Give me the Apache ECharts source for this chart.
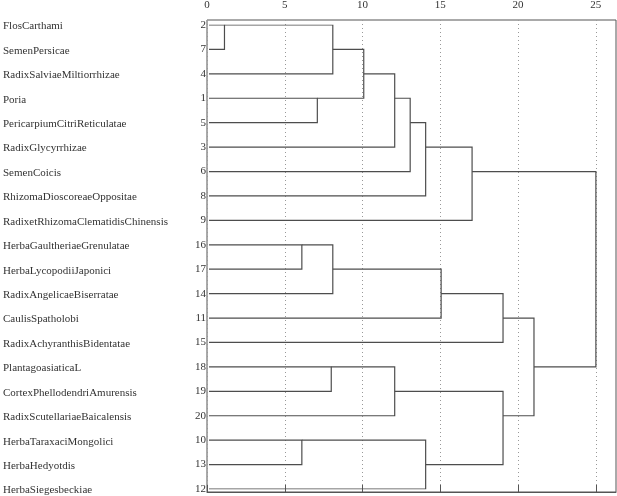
<!DOCTYPE html>
<html lang="en">
<head>
<meta charset="UTF-8">
<title>Dendrogram</title>
<script src="https://cdn.jsdelivr.net/npm/echarts@6/dist/echarts.min.js"></script>
<style>
  html, body { margin: 0; padding: 0; background: #fff; }
  #chart { width: 617px; height: 496px; }
</style>
</head>
<body>
<div id="chart"></div>
<script>
// leaves, top to bottom
var leafNames = [
  'FlosCarthami', 'SemenPersicae', 'RadixSalviaeMiltiorrhizae', 'Poria',
  'PericarpiumCitriReticulatae', 'RadixGlycyrrhizae', 'SemenCoicis',
  'RhizomaDioscoreaeOppositae', 'RadixetRhizomaClematidisChinensis',
  'HerbaGaultheriaeGrenulatae', 'HerbaLycopodiiJaponici', 'RadixAngelicaeBiserratae',
  'CaulisSpatholobi', 'RadixAchyranthisBidentatae', 'PlantagoasiaticaL',
  'CortexPhellodendriAmurensis', 'RadixScutellariaeBaicalensis',
  'HerbaTaraxaciMongolici', 'HerbaHedyotdis', 'HerbaSiegesbeckiae'
];
var leafIds = [2, 7, 4, 1, 5, 3, 6, 8, 9, 16, 17, 14, 11, 15, 18, 19, 20, 10, 13, 12];

// merge steps: node a, node b (0-19 = leaf rows, 20+ = earlier merges in order)
var mergeA = [0, 20, 3, 21, 23, 24, 25, 26, 9, 28, 29, 30, 14, 32, 17, 34, 33, 31, 27];
var mergeB = [1, 2, 4, 22, 5, 6, 7, 8, 10, 11, 12, 13, 15, 16, 18, 19, 35, 36, 37];
var mergeH = [1, 8, 7, 10, 12, 13, 14, 17, 6, 8, 15, 19, 7.9, 12, 6, 14, 19, 21, 25];

var xTicks = [0, 5, 10, 15, 20, 25];

// node positions: leaves at distance 0, merged node at row floor of mid
var nodeX = leafIds.map(function () { return 0; });
var nodeY = leafIds.map(function (d, i) { return i; });
var links = [];
for (var i = 0; i < mergeA.length; i++) {
  var a = mergeA[i], b = mergeB[i], h = mergeH[i];
  links.push({
    coords: [[nodeX[a], nodeY[a]], [h, nodeY[a]], [h, nodeY[b]], [nodeX[b], nodeY[b]]]
  });
  nodeX.push(h);
  nodeY.push(Math.floor((nodeY[a] + nodeY[b]) / 2));
}

var font = 'Liberation Serif';
var chart = echarts.init(document.getElementById('chart'));

chart.setOption({
  animation: false,
  grid: [
    { left: 207, right: 1, top: 25, bottom: 7 },
    { left: 207, right: 1, top: 20, bottom: 4, show: true, borderColor: '#555', borderWidth: 1 }
  ],
  xAxis: [
    { gridIndex: 0, type: 'value', min: 0, max: 26.3, show: false },
    {
      gridIndex: 1, type: 'value', position: 'top', min: 0, max: 26.3, interval: 5,
      axisLine: { show: true, lineStyle: { color: '#555' } },
      axisTick: { show: true, length: 7, lineStyle: { color: '#555' },
        customValues: xTicks },
      axisLabel: { fontFamily: font, fontSize: 11, color: '#333', margin: 9,
        customValues: xTicks },
      splitLine: { show: true, lineStyle: { color: '#999', type: [1, 3], width: 1 } }
    }
  ],
  yAxis: [
    {
      gridIndex: 0, type: 'value', inverse: true, min: 0, max: 19, interval: 1,
      axisLine: { show: false },
      axisTick: { show: false },
      splitLine: { show: false },
      axisLabel: {
        margin: 3,
        align: 'right',
        formatter: function (v) {
          return '{n|' + leafNames[v] + '}{v|' + leafIds[v] + '}';
        },
        rich: {
          n: { fontFamily: font, fontSize: 11, color: '#333', width: 188, align: 'left', padding: [3, 0, 0, 0] },
          v: { fontFamily: font, fontSize: 11, color: '#333', width: 15, align: 'right' }
        }
      }
    },
    { gridIndex: 1, type: 'value', min: 0, max: 1, show: false }
  ],
  series: [
    {
      type: 'lines',
      coordinateSystem: 'cartesian2d',
      xAxisIndex: 0,
      yAxisIndex: 0,
      polyline: true,
      silent: true,
      lineStyle: { color: '#4d4d4d', width: 1.2, opacity: 1 },
      data: links
    }
  ]
});
</script>
</body>
</html>
